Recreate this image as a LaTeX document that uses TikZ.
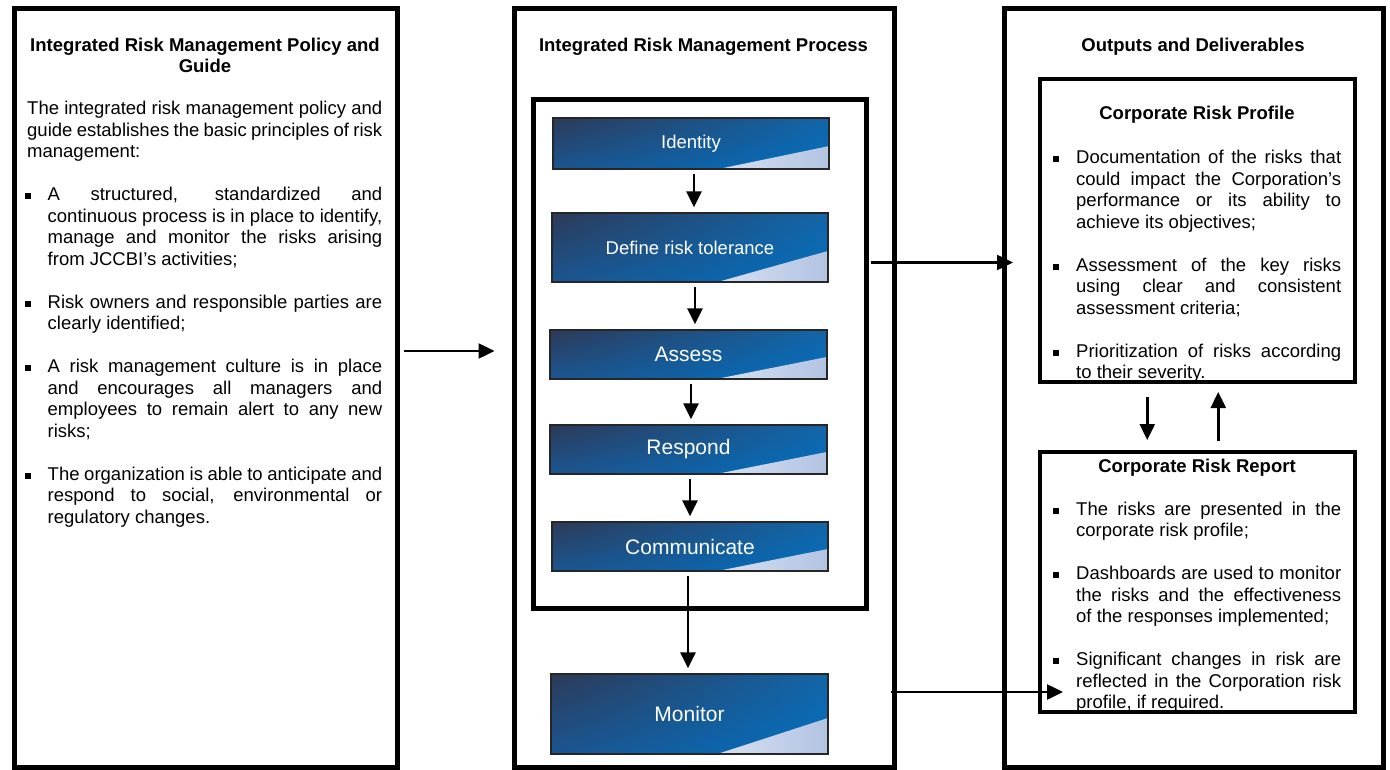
\documentclass[tikz,border=0pt]{standalone}
\usepackage{fontspec}
\setmainfont{Liberation Sans}
\usetikzlibrary{arrows.meta,calc,shadings}

\definecolor{pul}{HTML}{2C3A58}
\definecolor{pll}{HTML}{1C5590}
\definecolor{pur}{HTML}{1465A8}
\definecolor{plr}{HTML}{0070C0}
\definecolor{plightA}{HTML}{D6E0F1}
\definecolor{plightB}{HTML}{B2C3E2}

\newcommand\bsq{\raisebox{1.5pt}{\rule{6pt}{6pt}}}
\newcommand\JL[1]{\hbox to\hsize{#1}}
\newcommand\NL[1]{\hbox{#1}}
\newlength\bind
\newcommand\BF[1]{\hbox to\hsize{\hbox to\bind{\bsq\hfil}#1}}
\newcommand\BJ[1]{\hbox to\hsize{\hskip\bind #1}}
\newcommand\BN[1]{\hbox{\hskip\bind #1}}
\newcommand\GAP{\vskip\baselineskip}

\tikzset{
  outerbox/.style={draw, line width=5pt, inner sep=0pt},
  innerbox/.style={draw, line width=4pt, inner sep=0pt},
  titletext/.style={anchor=base, inner sep=0pt, font=\bfseries\fontsize{18.5}{21.5}\selectfont},
  bodytext/.style={anchor=base west, inner sep=0pt, align=justify, font=\fontsize{18.5}{21.5}\selectfont},
  procbox/.style={draw=black!85, line width=1.3pt, inner sep=0pt, text=white,
    path picture={
      \shade[upper left=pul, upper right=pur, lower left=pll, lower right=plr]
        (path picture bounding box.south west) rectangle (path picture bounding box.north east);
      \shade[left color=plightA, right color=plightB]
        ($(path picture bounding box.south west)!0.6!(path picture bounding box.south east)$)
        -- (path picture bounding box.south east)
        -- ($(path picture bounding box.south east)!0.45!(path picture bounding box.north east)$)
        -- cycle;
    }},
  smalllabel/.style={font=\fontsize{18.5}{20}\selectfont},
  biglabel/.style={font=\fontsize{21}{24}\selectfont},
  arr/.style={line width=2.5pt, -{Triangle[length=16pt,width=15pt]}},
  parr/.style={arr, shorten <=4pt, shorten >=5pt}
}

\begin{document}
\begin{tikzpicture}[x=1pt, y=-1pt]
\useasboundingbox (0,0) rectangle (1390,770);

% outer columns
\node[outerbox, minimum width=383pt, minimum height=758pt] (leftbox) at (205.5,388) {};
\node[outerbox, minimum width=380pt, minimum height=758pt] (midbox) at (704,388) {};
\node[outerbox, minimum width=379pt, minimum height=758pt] (rightbox) at (1193.5,388) {};

% titles
\node[titletext] (lt1) at (205,52) {Integrated Risk Management Policy and};
\node[titletext] (lt2) at (205,73) {Guide};
\node[titletext] (mt) at (703.5,52) {Integrated Risk Management Process};
\node[titletext] (rt) at (1193,52) {Outputs and Deliverables};

% left body
\setlength\bind{22.5pt}
\node[bodytext, text width=357pt] (lbody) at (25,115) {%
\JL{\hskip2pt The integrated risk management policy and}
\JL{\hskip2pt guide establishes the basic principles of risk}
\NL{\hskip2pt management:}
\GAP
\BF{A structured, standardized and}
\BJ{continuous process is in place to identify,}
\BJ{manage and monitor the risks arising}
\BN{from JCCBI’s activities;}
\GAP
\BF{Risk owners and responsible parties are}
\BN{clearly identified;}
\GAP
\BF{A risk management culture is in place}
\BJ{and encourages all managers and}
\BJ{employees to remain alert to any new}
\BN{risks;}
\GAP
\BF{The organization is able to anticipate and}
\BJ{respond to social, environmental or}
\BN{regulatory changes.}};

% middle process
\node[outerbox, minimum width=333pt, minimum height=508pt] (midinner) at (699.5,354) {};
\node[procbox, smalllabel, minimum width=276pt, minimum height=51pt] (idn) at (691,143.5) {Identity};
\node[procbox, smalllabel, minimum width=276pt, minimum height=69pt] (dfn) at (690,247.5) {Define risk tolerance};
\node[procbox, biglabel, minimum width=277pt, minimum height=49pt] (asn) at (688.5,354.5) {Assess};
\node[procbox, biglabel, minimum width=277pt, minimum height=49pt] (rsn) at (688.5,449.5) {Respond};
\node[procbox, biglabel, minimum width=276pt, minimum height=49pt] (cmn) at (690,546.5) {Communicate};
\node[procbox, biglabel, minimum width=277pt, minimum height=80pt] (mon) at (689.5,714) {Monitor};

\draw[parr] ($(idn.south)+(3,0)$) -- ($(idn.south |- dfn.north)+(3,0)$);
\draw[parr] ($(dfn.south)+(5,0)$) -- ($(dfn.south |- asn.north)+(5,0)$);
\draw[parr] ($(asn.south)+(2.5,0)$) -- ($(asn.south |- rsn.north)+(2.5,0)$);
\draw[parr] ($(rsn.south)+(1.5,0)$) -- ($(rsn.south |- cmn.north)+(1.5,0)$);
\draw[parr] ($(cmn.south)+(-2,0)$) -- ($(cmn.south |- mon.north)+(-2,0)$);

% right outputs
\node[innerbox, minimum width=315.5pt, minimum height=303pt] (profile) at (1197.25,230.5) {};
\node[innerbox, minimum width=315.5pt, minimum height=260pt] (report) at (1197.25,582) {};
\node[titletext] (pt) at (1197,120) {Corporate Risk Profile};
\node[titletext] (rpt) at (1197,472) {Corporate Risk Report};

\setlength\bind{23pt}
\node[bodytext, text width=288pt] (pbody) at (1053,164) {%
\BF{Documentation of the risks that}
\BJ{could impact the Corporation’s}
\BJ{performance or its ability to}
\BN{achieve its objectives;}
\GAP
\BF{Assessment of the key risks}
\BJ{using clear and consistent}
\BN{assessment criteria;}
\GAP
\BF{Prioritization of risks according}
\BN{to their severity.}};

\node[bodytext, text width=288pt] (rbody) at (1053,515) {%
\BF{The risks are presented in the}
\BN{corporate risk profile;}
\GAP
\BF{Dashboards are used to monitor}
\BJ{the risks and the effectiveness}
\BN{of the responses implemented;}
\GAP
\BF{Significant changes in risk are}
\BJ{reflected in the Corporation risk}
\BN{profile, if required.}};

% connectors
\draw[arr] ($(leftbox.east)+(4,-37)$) -- ($(midbox.west)+(-17,-37)$);
\draw[arr] ($(midinner.east)+(2,-91.5)$) -- ($(profile.west)+(-24.5,32)$);
\draw[arr] ($(midbox.east)+(-6,304)$) -- ($(report.west)+(25.5,110)$);
\draw[arr] ($(profile.south)+(-50,13)$) -- ($(report.north)+(-50,-10)$);
\draw[arr] ($(report.north)+(21,-9)$) -- ($(profile.south)+(21,8)$);
\end{tikzpicture}
\end{document}
